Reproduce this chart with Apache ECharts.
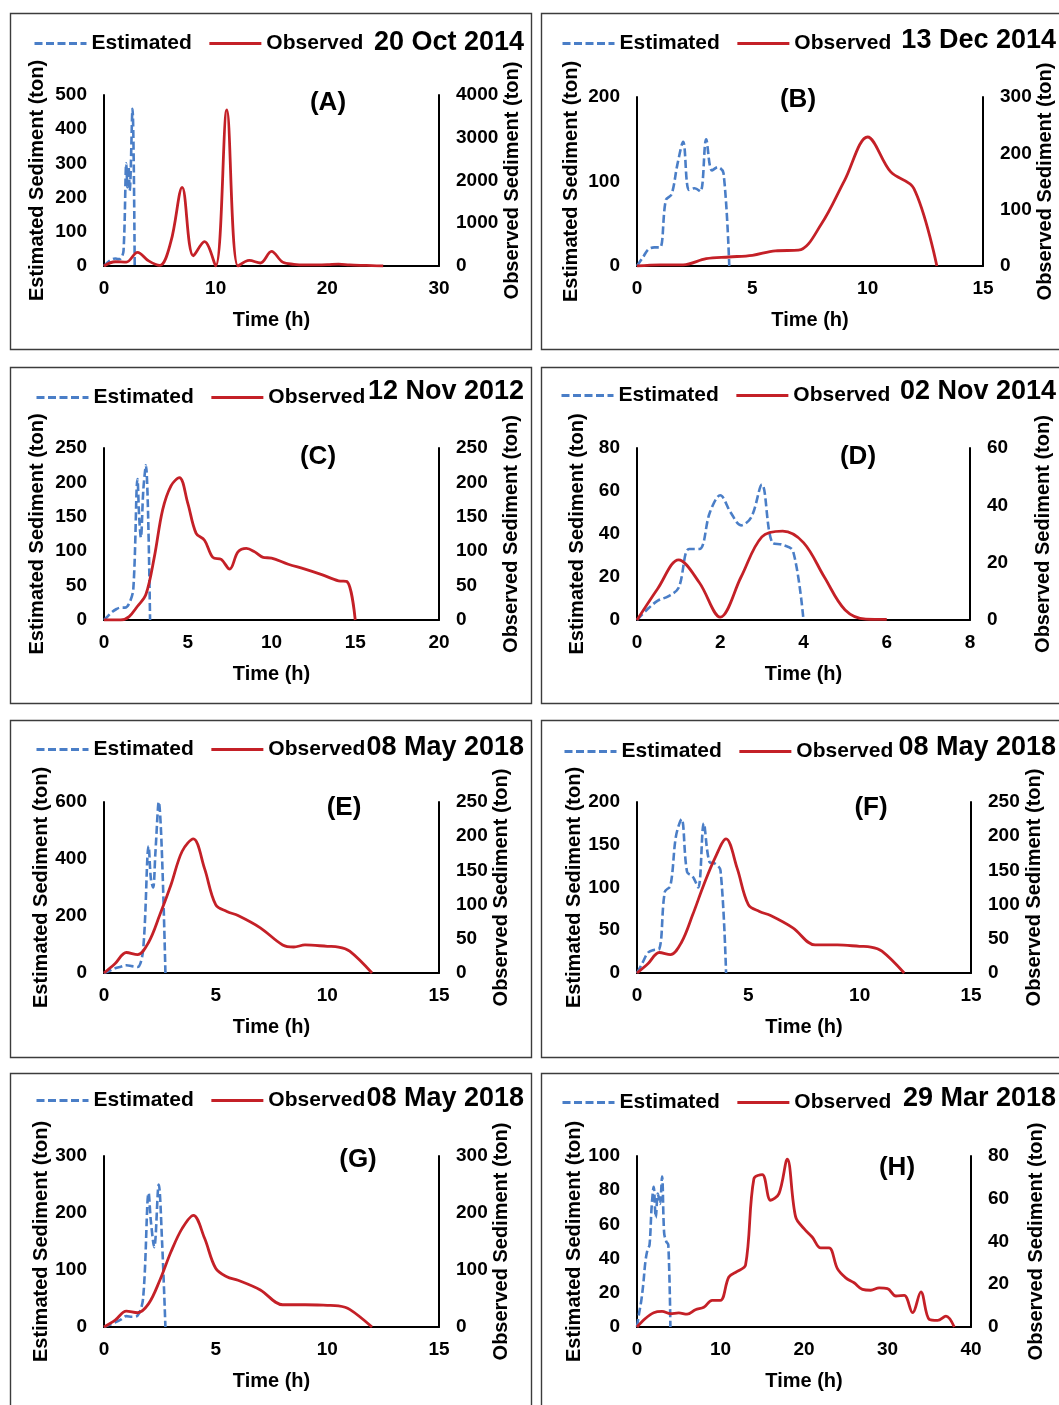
<!DOCTYPE html>
<html>
<head>
<meta charset="utf-8">
<script src="https://cdn.jsdelivr.net/npm/echarts@6/dist/echarts.min.js"></script>
<style>
  html, body { margin: 0; padding: 0; background: #ffffff; }
  #chart { width: 1059px; height: 1405px; }
</style>
</head>
<body>
<div id="chart"></div>
<script>
// Storm events: estimated vs observed sediment load (ton) over time (h)
const eventDates = ['20 Oct 2014', '13 Dec 2014', '12 Nov 2012', '02 Nov 2014',
                    '08 May 2018', '08 May 2018', '08 May 2018', '29 Mar 2018'];
const panelLabels = ['(A)', '(B)', '(C)', '(D)', '(E)', '(F)', '(G)', '(H)'];

// Axis ranges and tick steps
const xMax    = [30, 15, 20, 8, 15, 15, 15, 40];
const xStep   = [10, 5, 5, 2, 5, 5, 5, 10];
const estMax  = [500, 200, 250, 80, 600, 200, 300, 100];
const estStep = [100, 100, 50, 20, 200, 50, 100, 20];
const obsMax  = [4000, 300, 250, 60, 250, 250, 300, 80];
const obsStep = [1000, 100, 50, 20, 50, 50, 100, 20];

// (A) 20 Oct 2014
const estTimeA = [0, 0.25, 0.5, 0.75, 1, 1.25, 1.5, 1.75, 2, 2.1, 2.2, 2.3, 2.55, 2.75];
const estA     = [0, 8, 15, 20, 22, 20, 22, 45, 300, 230, 290, 220, 460, 0];
const obsTimeA = [0, 1, 2, 3, 4, 5, 6, 7, 8, 9, 10, 11, 12, 13, 14, 15, 16, 17, 18, 19, 20, 21, 22, 23, 24, 25];
const obsA     = [0, 100, 90, 320, 120, 15, 580, 1840, 240, 570, 0, 3650, 0, 130, 70, 340, 90, 40, 25, 25, 30, 45, 25, 15, 10, 0];

// (B) 13 Dec 2014
const estTimeB = [0, 0.25, 0.5, 0.75, 1, 1.25, 1.5, 1.75, 2, 2.25, 2.5, 2.75, 3, 3.25, 3.5, 3.75, 4];
const estB     = [0, 10, 20, 22, 22, 78, 85, 120, 147, 90, 92, 88, 150, 113, 117, 110, 0];
const obsTimeB = [0, 1, 2, 3, 4, 5, 6, 7, 8, 9, 10, 11, 12, 13];
const obsB     = [0, 2, 2, 13, 16, 19, 27, 28, 75, 152, 229, 167, 138, 0];

// (C) 12 Nov 2012
const estTimeC = [0, 0.25, 0.5, 0.75, 1, 1.25, 1.5, 1.75, 2, 2.1, 2.2, 2.35, 2.5, 2.75];
const estC     = [0, 6, 12, 16, 18, 18, 24, 45, 205, 150, 120, 190, 225, 0];
const obsTimeC = [0, 1, 1.5, 2, 2.5, 3, 3.5, 4, 4.5, 5, 5.5, 6, 6.5, 7, 7.5, 8, 8.5, 9, 9.5, 10, 11, 12, 13, 14, 14.5, 15];
const obsC     = [0, 0, 5, 20, 37, 91, 160, 195, 207, 170, 126, 116, 91, 88, 74, 99, 104, 99, 91, 90, 81, 74, 66, 57, 56, 0];

// (D) 02 Nov 2014
const estTimeD = [0, 0.25, 0.5, 0.75, 1, 1.25, 1.5, 1.75, 2, 2.25, 2.5, 2.75, 3, 3.25, 3.5, 3.75, 4];
const estD     = [0, 5, 9, 11, 15, 33, 33, 50, 58, 50, 44, 48, 63, 36, 35, 32, 0];
const obsTimeD = [0, 0.5, 1, 1.5, 2, 2.5, 3, 3.5, 4, 4.5, 5, 5.5, 6];
const obsD     = [0, 11, 21, 13, 1, 15, 29, 31, 27, 15, 3.5, 0.3, 0.2];

// (E) 08 May 2018
const estTimeE = [0, 0.25, 0.5, 0.75, 1, 1.25, 1.5, 1.75, 2, 2.1, 2.2, 2.3, 2.45, 2.75];
const estE     = [0, 8, 17, 22, 27, 24, 21, 80, 445, 330, 300, 420, 600, 0];
const obsTimeE = [0, 0.5, 1, 1.5, 2, 2.5, 3, 3.5, 4, 4.5, 5, 5.5, 6, 7, 8, 8.5, 9, 10, 10.5, 11, 12];
const obsE     = [0, 14, 30, 27, 45, 85, 129, 178, 196, 153, 100, 90, 84, 66, 41, 38, 41, 39, 38, 32, 0];

// (F) 08 May 2018
const estTimeF = [0, 0.25, 0.5, 0.75, 1, 1.25, 1.5, 1.75, 2, 2.25, 2.5, 2.75, 3, 3.25, 3.5, 3.75, 4];
const estF     = [0, 12, 24, 27, 28, 95, 102, 160, 180, 118, 113, 100, 175, 130, 128, 120, 0];
const obsTimeF = [0, 0.5, 1, 1.5, 2, 2.5, 3, 3.5, 4, 4.5, 5, 5.5, 6, 7, 8, 9, 10, 10.5, 11, 12];
const obsF     = [0, 14, 30, 27, 45, 85, 129, 168, 196, 153, 100, 90, 84, 66, 41, 41, 39, 38, 32, 0];

// (G) 08 May 2018
const estTimeG = [0, 0.25, 0.5, 0.75, 1, 1.25, 1.5, 1.75, 2, 2.1, 2.25, 2.45, 2.6, 2.75];
const estG     = [0, 4, 8, 13, 19, 18, 20, 50, 235, 185, 140, 250, 150, 0];
const obsTimeG = [0, 0.5, 1, 1.5, 2, 2.5, 3, 3.5, 4, 4.5, 5, 5.5, 6, 7, 8, 9, 10, 10.5, 11, 12];
const obsG     = [0, 12, 28, 25, 41, 82, 132, 173, 196, 156, 103, 88, 82, 65, 39, 39, 38, 37, 31, 0];

// (H) 29 Mar 2018
const estTimeH = [0, 0.25, 0.5, 0.75, 1, 1.25, 1.5, 1.75, 2, 2.25, 2.5, 2.75, 3, 3.25, 3.5, 3.75, 4];
const estH     = [0, 8, 15, 25, 38, 45, 48, 70, 82, 64, 78, 72, 88, 55, 50, 48, 0];
const obsTimeH = [0, 1, 2, 3, 4, 5, 6, 7, 8, 9, 10, 11, 12, 13, 14, 15, 16, 17, 18, 19,
                  20, 21, 22, 23, 24, 25, 26, 27, 28, 29, 30, 31, 32, 33, 34, 35, 36, 37, 38];
const obsH     = [0, 4, 6.7, 7.3, 6.2, 6.6, 6, 8.1, 9.2, 12.5, 12.5, 23.4, 26, 29, 69.4, 71.3, 59.3, 62.4, 78.5, 51.5,
                  46, 42, 37, 37, 27.3, 23, 20.7, 17.6, 17.2, 18.3, 18, 14.5, 14.8, 6.7, 16.4, 3.6, 3.1, 5.1, 0];

const estTimes = [estTimeA, estTimeB, estTimeC, estTimeD, estTimeE, estTimeF, estTimeG, estTimeH];
const estVals  = [estA, estB, estC, estD, estE, estF, estG, estH];
const obsTimes = [obsTimeA, obsTimeB, obsTimeC, obsTimeD, obsTimeE, obsTimeF, obsTimeG, obsTimeH];
const obsVals  = [obsA, obsB, obsC, obsD, obsE, obsF, obsG, obsH];

// Panel geometry (pixels): frame box, plot box [x0, y0, x1, y1], legend origin, date anchor, tag centre, axis-name gaps
const layout = [
  { frame: [10, 13, 521, 336],   plot: [104, 95, 439, 266],    legend: [33, 42],    date: [524, 43],    tag: [328, 103],  gaps: [57, 62] },
  { frame: [541, 13, 530, 336],  plot: [637, 97, 983, 266],    legend: [561, 42],   date: [1056, 41],   tag: [798, 100],  gaps: [56, 50] },
  { frame: [10, 367, 521, 336],  plot: [104, 448, 439, 620],   legend: [35, 396],   date: [524, 392],   tag: [318, 457],  gaps: [57, 62] },
  { frame: [541, 367, 530, 336], plot: [637, 448, 970, 620],   legend: [560, 394],  date: [1056, 392],  tag: [858, 457],  gaps: [50, 63] },
  { frame: [10, 720, 521, 337],  plot: [104, 802, 439, 973],   legend: [35, 748],   date: [524, 748],   tag: [344, 808],  gaps: [51, 50] },
  { frame: [541, 720, 530, 337], plot: [637, 802, 971, 973],   legend: [563, 750],  date: [1056, 748],  tag: [871, 808],  gaps: [51, 53] },
  { frame: [10, 1073, 521, 340], plot: [104, 1156, 439, 1327], legend: [35, 1099],  date: [524, 1099],  tag: [358, 1160], gaps: [51, 50] },
  { frame: [541, 1073, 530, 340],plot: [637, 1156, 971, 1327], legend: [561, 1101], date: [1056, 1099], tag: [897, 1168], gaps: [51, 55] }
];

const FONT = '"Liberation Sans", Arial, Helvetica, sans-serif';
const BLUE = '#4a7ec7';
const RED = '#c42027';
const AXIS_LINE = { show: true, lineStyle: { color: '#000', width: 2 } };
const TICK_FONT = { color: '#000', fontSize: 19, fontWeight: 'bold', fontFamily: FONT };
const NAME_FONT = { color: '#000', fontSize: 20, fontWeight: 'bold', fontFamily: FONT };
const plainNumber = v => String(v);

const zip = (ts, vs) => ts.map((t, k) => [t, vs[k]]);

const grid = [], xAxis = [], yAxis = [], series = [], legend = [], graphic = [];

layout.forEach((L, i) => {
  const [x0, y0, x1, y1] = L.plot;
  grid.push({ left: x0, top: y0, width: x1 - x0, height: y1 - y0, containLabel: false });

  xAxis.push({
    type: 'value', gridIndex: i, min: 0, max: xMax[i], interval: xStep[i],
    name: 'Time (h)', nameLocation: 'middle', nameGap: 44, nameTextStyle: NAME_FONT,
    axisLine: AXIS_LINE, axisTick: { show: false }, splitLine: { show: false },
    axisLabel: Object.assign({ margin: 13, formatter: plainNumber }, TICK_FONT)
  });

  yAxis.push({
    type: 'value', gridIndex: i, position: 'left', min: 0, max: estMax[i], interval: estStep[i],
    name: 'Estimated Sediment (ton)', nameLocation: 'middle', nameGap: L.gaps[0], nameTextStyle: NAME_FONT,
    axisLine: AXIS_LINE, axisTick: { show: false }, splitLine: { show: false },
    axisLabel: Object.assign({ margin: 17, formatter: plainNumber }, TICK_FONT)
  });
  yAxis.push({
    type: 'value', gridIndex: i, position: 'right', min: 0, max: obsMax[i], interval: obsStep[i],
    name: 'Observed Sediment (ton)', nameLocation: 'middle', nameGap: L.gaps[1], nameTextStyle: NAME_FONT,
    axisLine: AXIS_LINE, axisTick: { show: false }, splitLine: { show: false },
    axisLabel: Object.assign({ margin: 17, formatter: plainNumber }, TICK_FONT)
  });

  series.push({
    name: 'Estimated', type: 'line', xAxisIndex: i, yAxisIndex: 2 * i,
    data: zip(estTimes[i], estVals[i]), smooth: 0.35, symbol: 'none', showSymbol: false,
    lineStyle: { color: BLUE, width: 2.6, type: [8, 3.5] }, itemStyle: { color: BLUE }, z: 2
  });
  series.push({
    name: 'Observed', type: 'line', xAxisIndex: i, yAxisIndex: 2 * i + 1,
    data: zip(obsTimes[i], obsVals[i]), smooth: 0.35, symbol: 'none', showSymbol: false,
    lineStyle: { color: RED, width: 2.8 }, itemStyle: { color: RED }, z: 3
  });

  legend.push({
    data: ['Estimated', 'Observed'], left: L.legend[0], top: L.legend[1] - 9,
    itemWidth: 52, itemHeight: 14, itemGap: 16, selectedMode: false, padding: 0,
    itemStyle: { opacity: 0 },
    lineStyle: { width: 3 },
    textStyle: { color: '#000', fontSize: 21, fontWeight: 'bold', fontFamily: FONT }
  });

  // frame around the panel
  graphic.push({
    type: 'rect', silent: true, z: 0,
    shape: { x: L.frame[0] + 0.5, y: L.frame[1] + 0.5, width: L.frame[2], height: L.frame[3] },
    style: { fill: 'none', stroke: '#3c3c3c', lineWidth: 1.4 }
  });
  // event date
  graphic.push({
    type: 'text', silent: true, x: L.date[0], y: L.date[1],
    style: { text: eventDates[i], fill: '#000', font: 'bold 27px ' + FONT,
             align: 'right', verticalAlign: 'middle', textAlign: 'right', textVerticalAlign: 'middle' }
  });
  // panel tag
  graphic.push({
    type: 'text', silent: true, x: L.tag[0], y: L.tag[1],
    style: { text: panelLabels[i], fill: '#000', font: 'bold 26px ' + FONT,
             align: 'center', verticalAlign: 'middle', textAlign: 'center', textVerticalAlign: 'middle' }
  });
});

const chart = echarts.init(document.getElementById('chart'), null, { renderer: 'canvas' });
chart.setOption({
  backgroundColor: '#ffffff',
  animation: false,
  textStyle: { fontFamily: FONT },
  grid, xAxis, yAxis, series, legend, graphic
});
</script>
</body>
</html>
